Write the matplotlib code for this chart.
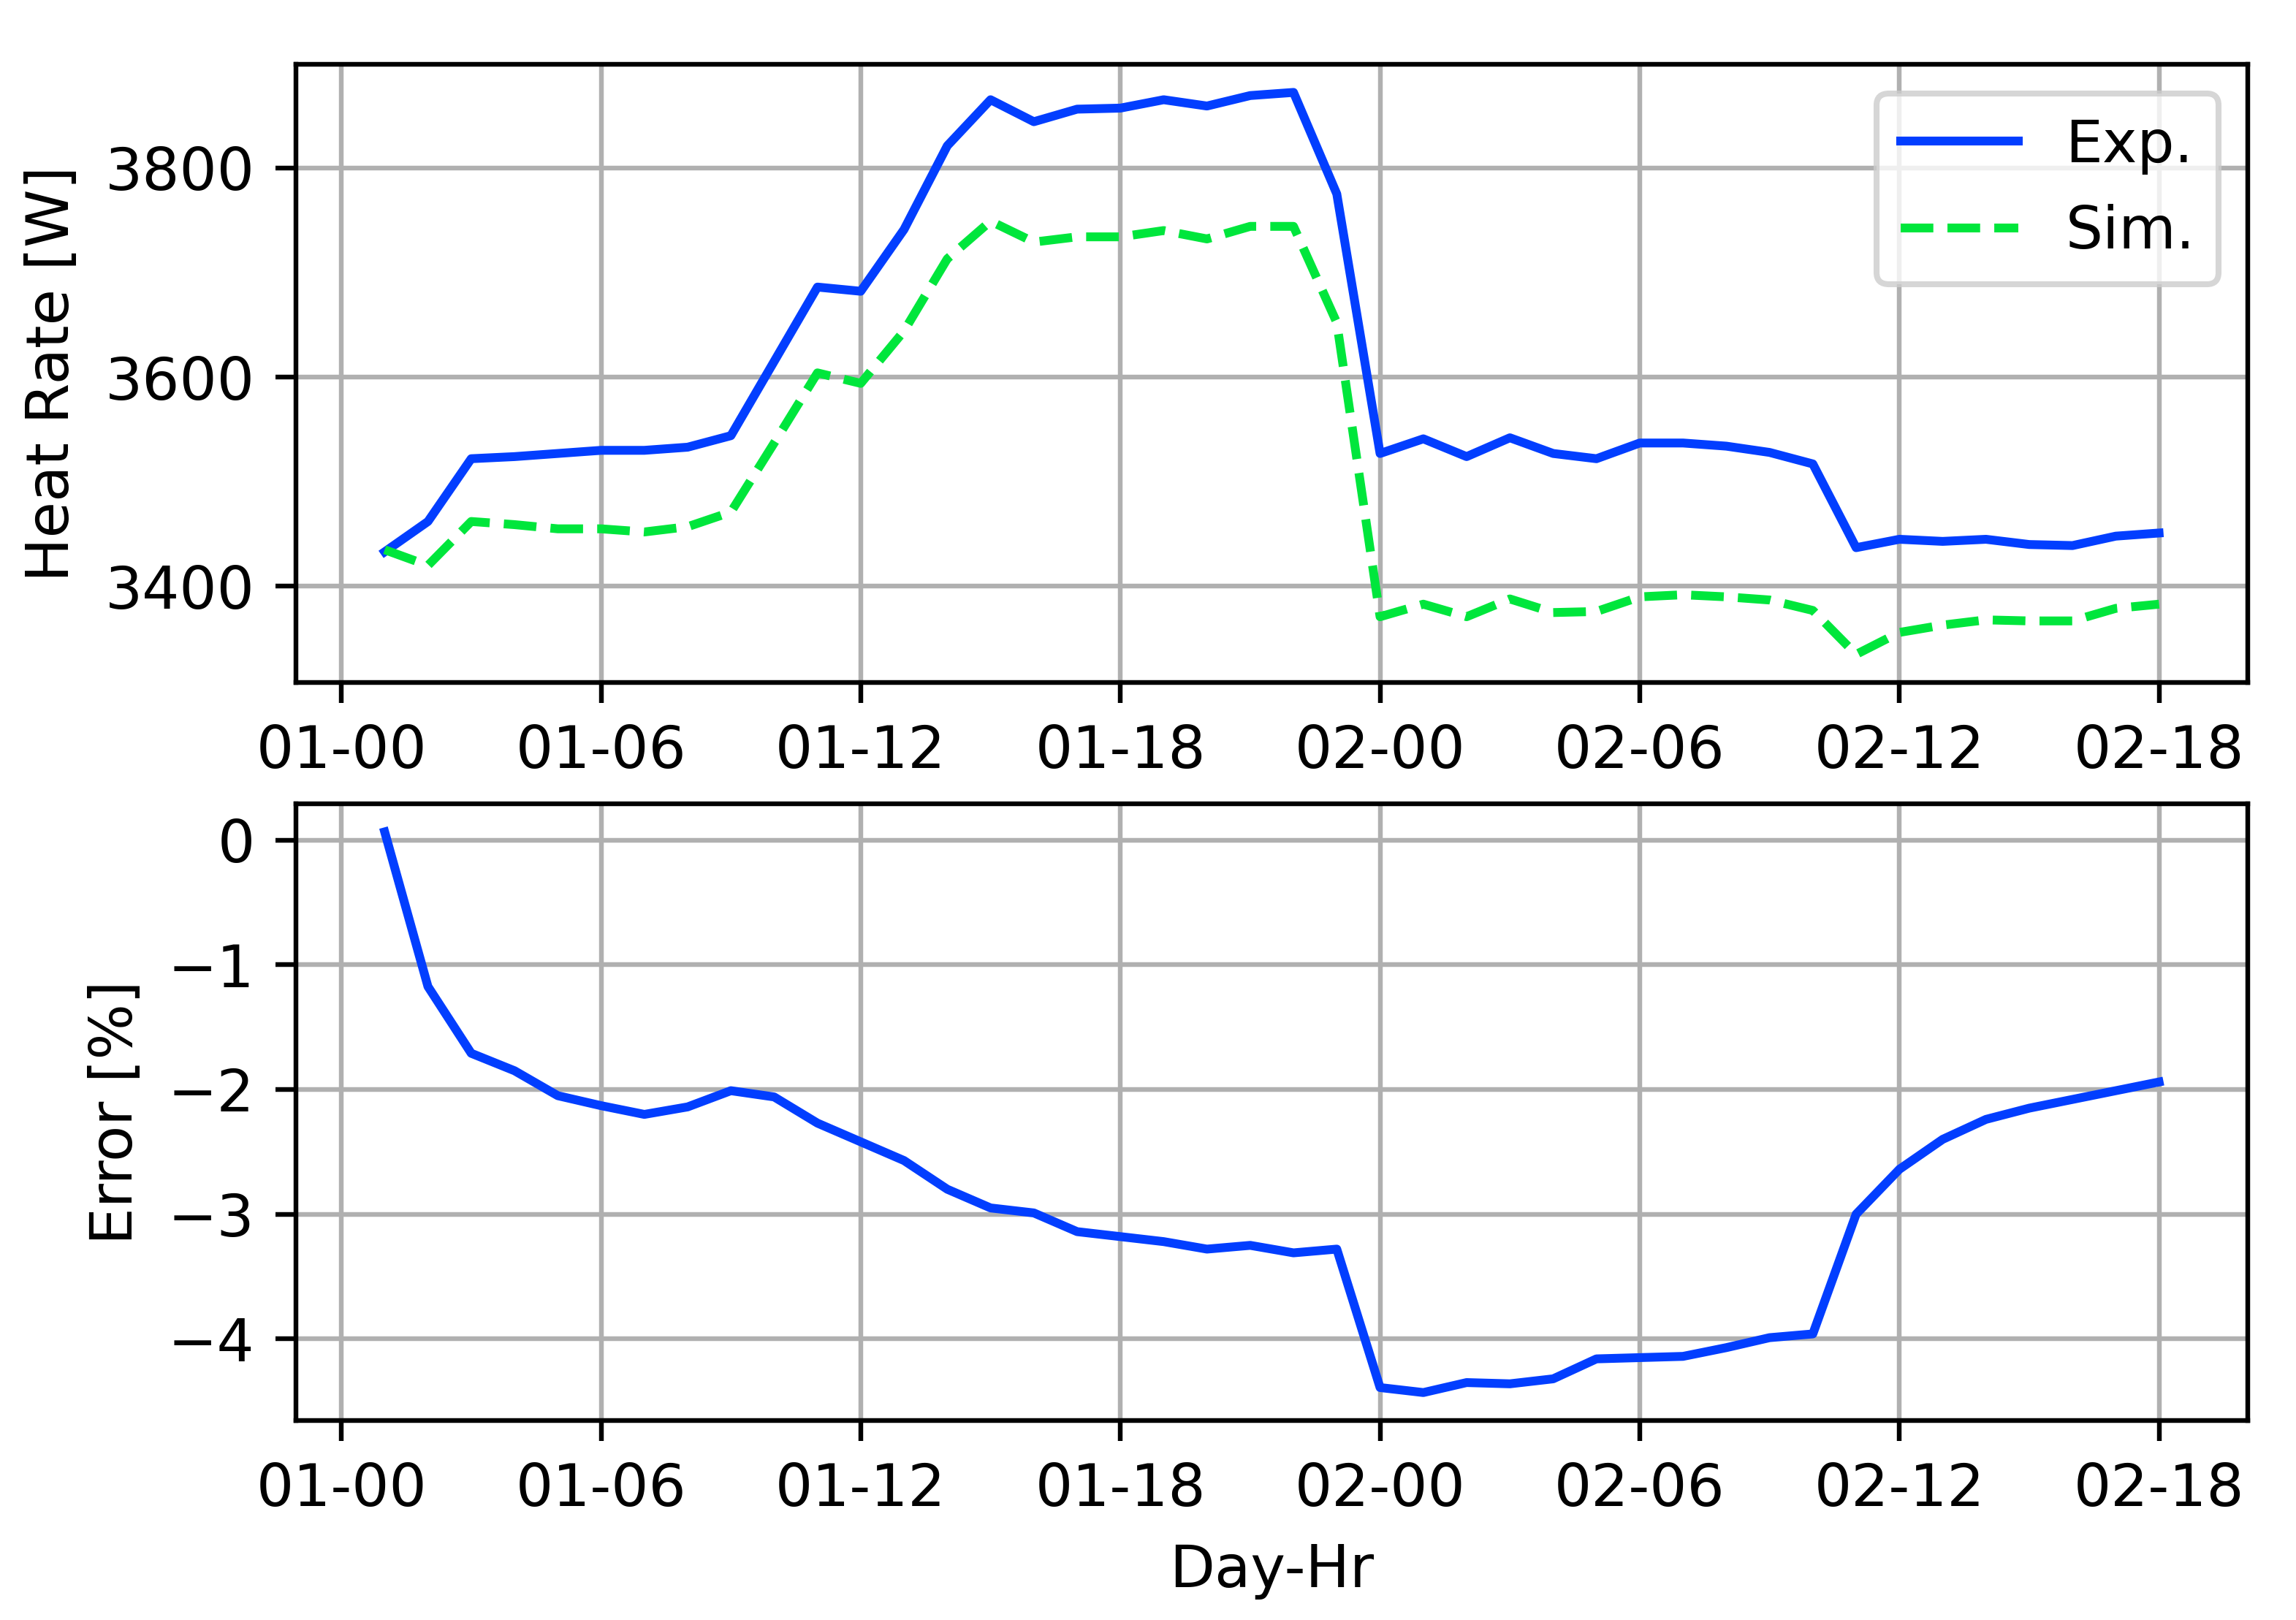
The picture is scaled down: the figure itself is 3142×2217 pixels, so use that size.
import numpy as np
import matplotlib.pyplot as plt

# hours since 01-00
hours = list(range(1, 43))

exp_rate = [3433, 3462, 3522, 3524, 3527, 3530, 3530, 3533, 3544, 3615,
            3686, 3682, 3741, 3821, 3865, 3844, 3856, 3857, 3865, 3859,
            3869, 3872, 3775, 3527, 3541, 3524, 3542, 3527, 3522, 3537,
            3537, 3534, 3528, 3517, 3437, 3445, 3443, 3445, 3440, 3439,
            3448, 3451]

sim_rate = [3435, 3420, 3462, 3459, 3455, 3455, 3452, 3457, 3471, 3537,
            3604, 3594, 3644, 3713, 3749, 3729, 3734, 3734, 3740, 3732,
            3744, 3744, 3652, 3371, 3383, 3371, 3388, 3375, 3376, 3390,
            3392, 3390, 3387, 3377, 3335, 3356, 3363, 3368, 3367, 3367,
            3379, 3383]

error_pct = [0.065, -1.175, -1.71, -1.85, -2.05, -2.13, -2.20, -2.14, -2.01, -2.06,
             -2.27, -2.42, -2.57, -2.80, -2.95, -2.99, -3.14, -3.18, -3.22, -3.28,
             -3.25, -3.31, -3.28, -4.39, -4.43, -4.35, -4.36, -4.32, -4.16, -4.15,
             -4.14, -4.07, -3.99, -3.96, -3.00, -2.64, -2.40, -2.24, -2.15, -2.08,
             -2.01, -1.94]

tick_hours = [0, 6, 12, 18, 24, 30, 36, 42]
tick_labels = ["01-00", "01-06", "01-12", "01-18", "02-00", "02-06", "02-12", "02-18"]

blue = "#023eff"
green = "#00e63c"

dpi = 580
fig = plt.figure(figsize=(3142 / dpi, 2217 / dpi), dpi=dpi)
ax1 = fig.add_axes([0.1289, 0.5787, 0.8501, 0.3816])
ax2 = fig.add_axes([0.1289, 0.1231, 0.8501, 0.3807])

ax1.plot(hours, exp_rate, color=blue, label="Exp.")
ax1.plot(hours, sim_rate, color=green, linestyle="--", label="Sim.")
ax1.set_ylabel("Heat Rate [W]")
ax1.set_yticks([3400, 3600, 3800])
ax1.legend(loc="upper right")

ax2.plot(hours, error_pct, color=blue)
ax2.set_ylabel("Error [%]")
ax2.set_xlabel("Day-Hr")
ax2.set_yticks([0, -1, -2, -3, -4])

for ax in (ax1, ax2):
    ax.set_xticks(tick_hours)
    ax.set_xticklabels(tick_labels)
    ax.grid(True)

fig.savefig("out.png", dpi=dpi)
